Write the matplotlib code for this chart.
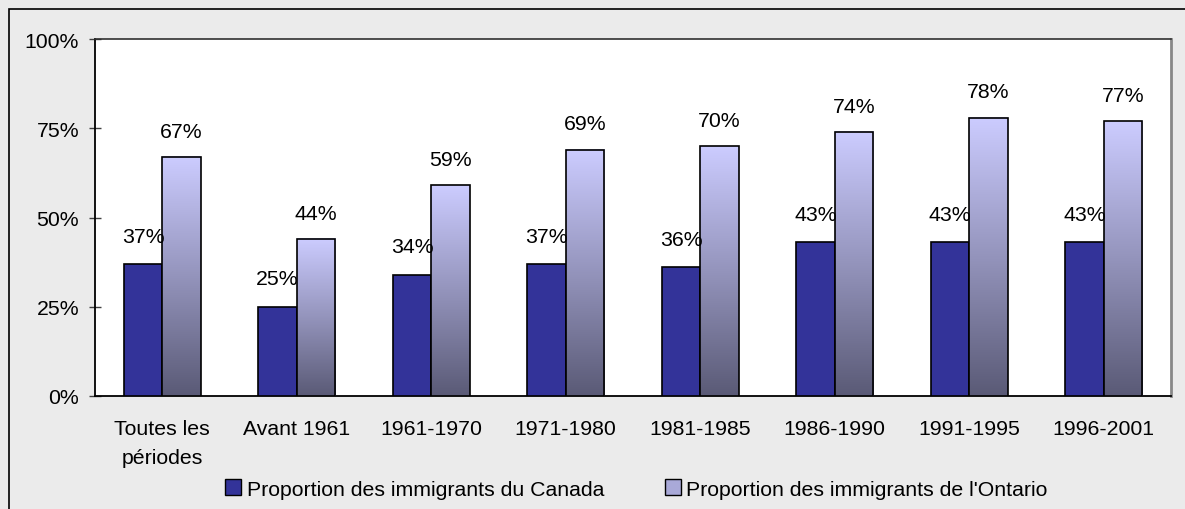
import matplotlib
matplotlib.use("Agg")
import matplotlib.pyplot as plt
import numpy as np
from matplotlib.patches import Rectangle
from matplotlib.colors import LinearSegmentedColormap

plt.rcParams['font.family'] = ['Liberation Sans', 'DejaVu Sans']

# data
periodes = ["Toutes les\npériodes", "Avant 1961", "1961-1970", "1971-1980",
            "1981-1985", "1986-1990", "1991-1995", "1996-2001"]
canada = [37, 25, 34, 37, 36, 43, 43, 43]
ontario = [67, 44, 59, 69, 70, 74, 78, 77]
series_names = ["Proportion des immigrants du Canada",
                "Proportion des immigrants de l'Ontario"]
yticks = [0, 25, 50, 75, 100]

fs = 15.3
dark = "#333399"
grad = LinearSegmentedColormap.from_list("g", ["#5a5a76", "#9494bc", "#ccccff"])

fig = plt.figure(figsize=(11.85, 5.1), dpi=100)
fig.patch.set_facecolor("#ebebeb")
# outer frame of the chart object
fig.add_artist(Rectangle((9 / 1185, -0.05), 1.2, 1 - 10 / 510 + 0.05,
                         transform=fig.transFigure, fill=False,
                         edgecolor="black", linewidth=1.2))

ax = fig.add_axes([95 / 1185, 1 - 397 / 510, (1171 - 95) / 1185, (397 - 40) / 510])
ax.set_facecolor("white")

x = np.arange(len(periodes))
w = 0.287

ax.bar(x - w / 2, canada, width=w, color=dark, edgecolor="black", linewidth=1.2, zorder=3)

# gradient bars for Ontario
bars = ax.bar(x + w / 2, ontario, width=w, color="none", edgecolor="black", linewidth=1.2, zorder=4)
g = np.linspace(0, 1, 256).reshape(-1, 1)
for b in bars:
    x0, y0 = b.get_x(), b.get_y()
    ax.imshow(g, cmap=grad, origin="lower", aspect="auto",
              extent=[x0, x0 + b.get_width(), y0, y0 + b.get_height()], zorder=3)

for xi, v in zip(x, canada):
    ax.annotate(f"{v}%", (xi - w / 2, v), xytext=(0, 20), textcoords="offset points",
                ha="center", va="center", fontsize=fs, zorder=5)
for xi, v in zip(x, ontario):
    ax.annotate(f"{v}%", (xi + w / 2, v), xytext=(0, 18.5), textcoords="offset points",
                ha="center", va="center", fontsize=fs, zorder=5)

ax.set_xlim(-0.5, len(periodes) - 0.5)
ax.set_ylim(0, 100)
ax.set_yticks(yticks)
ax.set_yticklabels([f"{t}%" for t in yticks], fontsize=fs)
ax.set_xticks(x)
ax.set_xticklabels(periodes, fontsize=fs, linespacing=1.7, va="top")
ax.tick_params(axis="x", length=0, pad=16.5)
ax.tick_params(axis="y", direction="inout", length=9, width=1, color="#404040", pad=7)

for s in ["left", "bottom"]:
    ax.spines[s].set_color("black")
    ax.spines[s].set_linewidth(1.3)
ax.spines["top"].set_color("#303030")
ax.spines["top"].set_linewidth(1.2)
ax.spines["right"].set_color("#888888")
ax.spines["right"].set_linewidth(2)

# legend
h1 = Rectangle((0, 0), 1, 1, facecolor=dark, edgecolor="black")
h2 = Rectangle((0, 0), 1, 1, facecolor="#a9a9d8", edgecolor="black")
fig.legend([h1, h2], series_names, loc="center", bbox_to_anchor=(0.537, 1 - 490 / 510),
           ncol=2, frameon=False, fontsize=fs, handlelength=0.75, handleheight=0.75,
           handletextpad=0.25, columnspacing=2.85, borderaxespad=0)

fig.savefig("out.png", dpi=100, facecolor=fig.get_facecolor())
